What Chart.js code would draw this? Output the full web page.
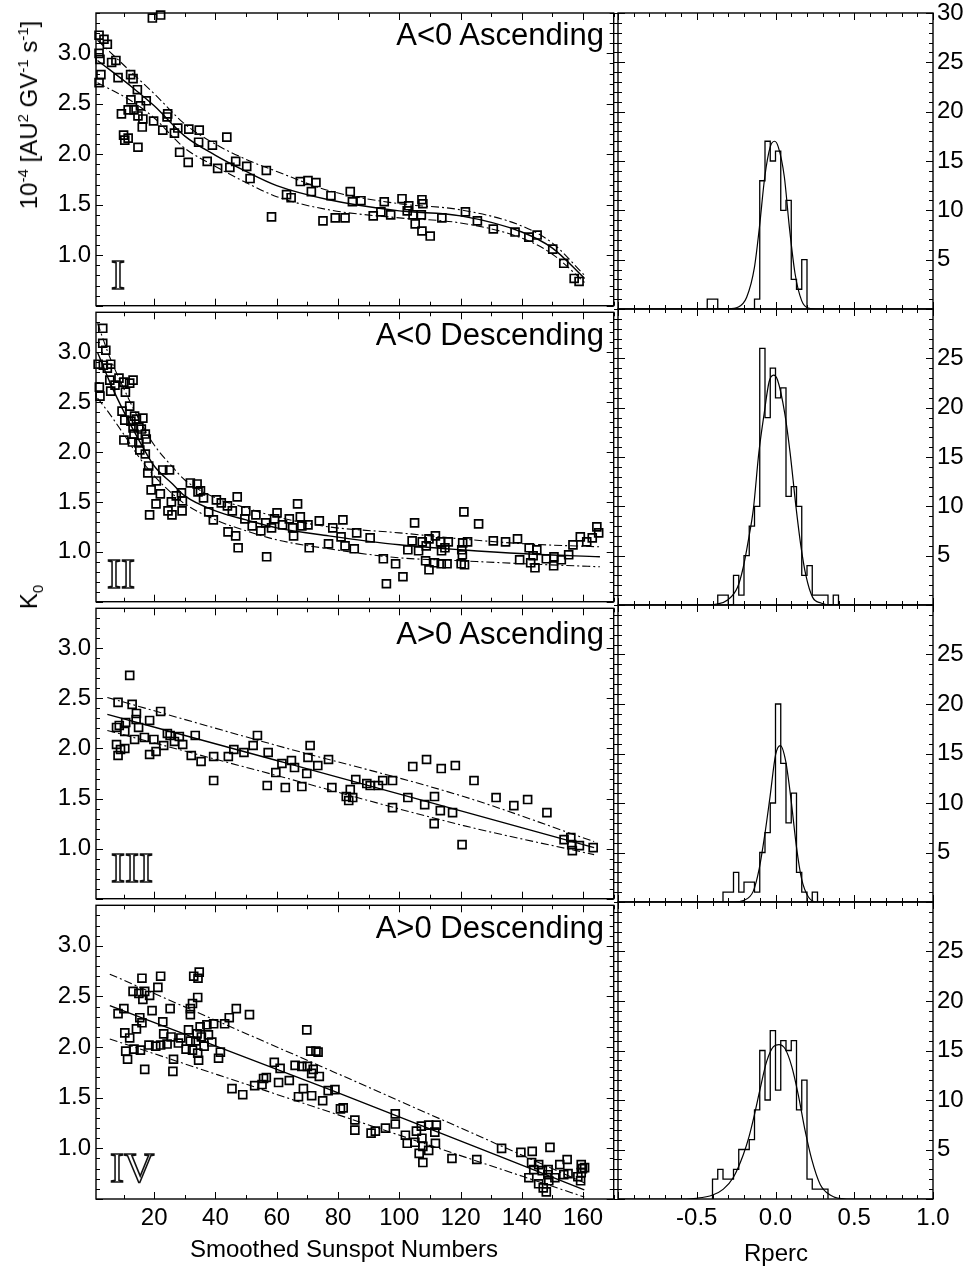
<!DOCTYPE html>
<html>
<head>
<meta charset="utf-8">
<script src="https://cdn.jsdelivr.net/npm/chart.js@4.4.1/dist/chart.umd.min.js"></script>
<style>
  body { margin: 0; background: #fff; }
  #wrap { position: relative; width: 971px; height: 1272px; background: #fff; overflow: hidden;
          font-family: "Liberation Sans", Arial, sans-serif; color: #000; }
  canvas { position: absolute; }
  .txt { position: absolute; white-space: nowrap; z-index: 2; }
  .rot { font-size: 24px; line-height: 24px; transform: translate(-50%, -50%) rotate(-90deg); }
  .rot sup { font-size: 15px; position: relative; top: -9px; vertical-align: baseline; line-height: 0; }
  .rot sub { font-size: 15px; position: relative; top: 6px; vertical-align: baseline; line-height: 0; }
  .plab { left: 0; width: 604px; text-align: right; font-size: 31px; line-height: 31px; }
  .rom { font-family: "Liberation Serif", "Times New Roman", serif; font-size: 42px; line-height: 42px;
         color: #fff; -webkit-text-stroke: 1.6px #111; }
  .xt { font-size: 24px; line-height: 24px; transform: translateX(-50%); }
</style>
</head>
<body>
<div id="wrap">
  <div class="txt rot" style="left:29px;top:115px">10<sup>-4</sup> [AU<sup>2</sup> GV<sup>-1</sup> s<sup>-1</sup>]</div>
  <div class="txt rot" style="left:29px;top:597px">K<sub>0</sub></div>

  <div class="txt plab" style="top:19px">A&lt;0 Ascending</div>
  <div class="txt plab" style="top:319px">A&lt;0 Descending</div>
  <div class="txt plab" style="top:618px">A&gt;0 Ascending</div>
  <div class="txt plab" style="top:912px">A&gt;0 Descending</div>

  <div class="txt rom" style="left:111px;top:254px">I</div>
  <div class="txt rom" style="left:107px;top:553px">II</div>
  <div class="txt rom" style="left:111px;top:847px">III</div>
  <div class="txt rom" style="left:110px;top:1147px">IV</div>

  <div class="txt xt" style="left:344px;top:1237px">Smoothed Sunspot Numbers</div>
  <div class="txt xt" style="left:776px;top:1241px">Rperc</div>
</div>
<script>
// ---- panel I : A<0 ascending ----
const panel1Points = [
  [2.0, 3.18], [3.6, 3.14], [4.7, 3.09], [2.0, 3.00], [2.3, 2.94], [7.5, 2.93], [6.1, 2.91], [2.6, 2.79],
  [2.0, 2.71], [8.2, 2.76], [12.3, 2.79], [13.1, 2.75], [14.5, 2.64], [12.4, 2.54], [17.4, 2.53], [15.5, 2.48],
  [9.3, 2.40], [11.5, 2.44], [13.4, 2.44], [14.7, 2.38], [16.3, 2.35], [16.1, 2.27], [19.8, 2.33], [24.4, 2.40],
  [24.2, 2.37], [22.8, 2.24], [26.6, 2.21], [27.7, 2.26], [31.3, 2.25], [34.7, 2.24], [34.5, 2.12], [39.0, 2.09],
  [43.7, 2.17], [10.0, 2.19], [10.4, 2.14], [11.5, 2.16], [14.7, 2.07], [28.3, 2.02], [31.1, 1.92], [37.3, 1.93],
  [40.7, 1.86], [44.7, 1.87], [46.6, 1.93], [50.2, 1.88], [51.3, 1.76], [56.6, 1.84], [58.3, 1.38], [63.2, 1.60],
  [64.7, 1.57], [67.7, 1.73], [70.2, 1.74], [72.8, 1.72], [71.3, 1.63], [75.1, 1.34], [19.4, 3.35], [22.1, 3.38],
  [79.1, 1.37], [82.3, 1.37], [77.7, 1.59], [84.0, 1.63], [84.7, 1.53], [87.5, 1.54], [91.5, 1.39], [94.0, 1.43],
  [95.1, 1.53], [97.2, 1.40], [100.9, 1.56], [103.1, 1.49], [102.6, 1.44], [104.5, 1.40], [107.2, 1.40], [107.4, 1.55],
  [107.7, 1.51], [105.2, 1.31], [107.4, 1.24], [110.1, 1.19], [113.9, 1.37], [121.6, 1.43], [125.5, 1.34], [130.7, 1.26],
  [137.8, 1.23], [142.3, 1.18], [145.0, 1.20], [150.1, 1.06], [153.7, 0.92], [157.1, 0.77], [158.7, 0.74]
];
const fit1X   = [1.5, 13, 20, 30, 40, 50, 60, 77, 100, 120, 140, 150, 160.5];
const fit1Mid = [2.93, 2.66, 2.48, 2.18, 1.99, 1.83, 1.69, 1.55, 1.44, 1.39, 1.23, 1.07, 0.77];
const fit1Up  = [3.13, 2.80, 2.60, 2.30, 2.10, 1.95, 1.83, 1.64, 1.51, 1.45, 1.29, 1.12, 0.80];
const fit1Lo  = [2.71, 2.52, 2.36, 2.06, 1.88, 1.72, 1.58, 1.45, 1.37, 1.32, 1.17, 1.01, 0.73];

// ---- panel II : A<0 descending ----
const panel2Points = [
  [3.2, 3.24], [3.2, 3.09], [4.2, 3.02], [1.7, 2.88], [3.4, 2.87], [5.8, 2.88], [4.7, 2.84], [2.1, 2.65],
  [2.3, 2.56], [5.5, 2.72], [5.8, 2.61], [7.2, 2.67], [8.5, 2.74], [10.1, 2.70], [12.0, 2.69], [13.1, 2.72],
  [10.6, 2.60], [9.5, 2.41], [12.0, 2.46], [10.4, 2.32], [12.4, 2.31], [13.6, 2.36], [14.2, 2.33], [16.3, 2.34],
  [13.1, 2.24], [15.0, 2.25], [13.4, 2.18], [15.8, 2.23], [17.1, 2.18], [10.1, 2.12], [12.9, 2.10], [15.0, 2.09],
  [17.4, 2.13], [15.3, 2.02], [17.1, 1.98], [18.2, 1.86], [17.9, 1.79], [20.7, 1.71], [22.8, 1.82], [25.0, 1.82],
  [19.0, 1.62], [22.0, 1.58], [20.6, 1.48], [18.5, 1.37], [24.5, 1.41], [25.8, 1.37], [25.6, 1.50], [27.2, 1.56],
  [28.9, 1.59], [29.2, 1.51], [29.1, 1.41], [31.8, 1.69], [34.0, 1.68], [34.3, 1.60], [35.1, 1.61], [36.1, 1.54],
  [37.8, 1.40], [39.3, 1.32], [40.3, 1.52], [41.9, 1.49], [43.9, 1.46], [45.5, 1.41], [47.1, 1.55], [44.1, 1.20],
  [46.6, 1.16], [47.4, 1.04], [49.9, 1.41], [49.6, 1.33], [53.2, 1.37], [52.0, 1.26], [54.8, 1.21], [56.4, 1.29],
  [56.7, 0.95], [58.3, 1.24], [60.1, 1.39], [59.3, 1.33], [61.9, 1.27], [64.1, 1.33], [65.2, 1.24], [65.5, 1.16],
  [66.8, 1.48], [67.7, 1.35], [68.2, 1.26], [70.2, 1.27], [70.6, 1.04], [73.9, 1.31], [76.9, 1.08], [78.3, 1.24],
  [81.6, 1.32], [81.0, 1.15], [82.3, 1.06], [85.3, 1.03], [86.1, 1.19], [90.5, 1.14], [94.8, 0.93], [98.8, 0.88],
  [95.8, 0.68], [101.2, 0.75], [105.0, 1.29], [104.2, 1.11], [102.8, 1.02], [106.3, 1.01], [107.5, 1.10], [108.8, 1.06],
  [109.7, 1.13], [111.8, 1.16], [113.5, 1.10], [116.0, 1.10], [114.9, 1.04], [108.6, 0.91], [109.7, 0.82], [111.5, 0.89],
  [113.7, 0.88], [115.6, 0.88], [113.8, 1.01], [120.4, 1.02], [120.6, 0.97], [120.2, 0.88], [121.3, 0.87], [120.7, 1.09],
  [122.3, 1.10], [121.1, 1.40], [125.9, 1.28], [130.7, 1.11], [134.7, 1.10], [138.6, 1.13], [139.3, 0.92], [142.4, 1.04],
  [142.9, 0.89], [143.7, 0.96], [144.3, 0.84], [144.9, 1.02], [148.0, 0.93], [150.5, 0.95], [150.4, 0.86], [152.9, 0.92],
  [155.3, 0.97], [156.7, 1.07], [159.1, 1.15], [161.2, 1.10], [163.0, 1.14], [164.5, 1.25], [165.1, 1.19]
];
const fit2X   = [1.5, 5.5, 10, 15, 20, 26, 30, 40, 50, 60, 77, 100, 120, 141, 165.5];
const fit2Mid = [3.00, 2.70, 2.41, 2.12, 1.86, 1.68, 1.56, 1.41, 1.32, 1.24, 1.16, 1.07, 1.02, 0.98, 0.95];
const fit2Up  = [3.29, 2.95, 2.64, 2.33, 2.07, 1.85, 1.72, 1.54, 1.44, 1.35, 1.25, 1.19, 1.13, 1.08, 1.05];
const fit2Lo  = [2.54, 2.38, 2.18, 1.95, 1.76, 1.58, 1.48, 1.32, 1.21, 1.12, 1.03, 0.94, 0.91, 0.88, 0.85];

// ---- panel III : A>0 ascending ----
const panel3Points = [
  [12.0, 2.73], [8.2, 2.46], [12.8, 2.44], [14.2, 2.35], [22.1, 2.37], [8.6, 2.23], [7.7, 2.21], [10.7, 2.26],
  [10.4, 2.17], [14.1, 2.29], [14.9, 2.21], [13.6, 2.09], [16.8, 2.11], [18.5, 2.28], [19.9, 2.09], [24.3, 2.15],
  [25.2, 2.13], [28.2, 2.12], [33.4, 2.13], [7.7, 2.04], [8.2, 1.93], [9.0, 1.99], [10.4, 2.00], [18.5, 1.94],
  [20.6, 1.97], [23.1, 2.03], [26.6, 2.07], [29.3, 2.04], [32.1, 1.93], [35.3, 1.87], [39.4, 1.92], [39.4, 1.68],
  [44.2, 1.92], [46.0, 1.99], [49.3, 1.96], [52.3, 2.03], [53.7, 2.13], [57.2, 1.96], [56.9, 1.63], [59.7, 1.76],
  [61.7, 1.85], [62.8, 1.61], [64.8, 1.88], [65.8, 1.81], [68.2, 1.62], [69.8, 1.75], [70.2, 1.91], [70.9, 2.03],
  [73.4, 1.83], [76.9, 1.89], [78.0, 1.61], [82.7, 1.52], [83.5, 1.48], [84.0, 1.59], [84.8, 1.51], [85.8, 1.69],
  [89.4, 1.65], [90.5, 1.63], [93.2, 1.63], [94.6, 1.68], [97.8, 1.68], [97.8, 1.41], [102.8, 1.51], [104.4, 1.82],
  [108.3, 1.44], [108.9, 1.89], [111.5, 1.52], [111.4, 1.25], [113.4, 1.38], [113.7, 1.80], [117.4, 1.36], [118.3, 1.83],
  [120.5, 1.04], [124.4, 1.68], [131.6, 1.51], [137.4, 1.43], [141.9, 1.49], [148.2, 1.36], [153.8, 1.09], [156.0, 1.11],
  [156.3, 1.04], [156.5, 0.98], [158.8, 1.03], [163.3, 1.01]
];
const fit3X   = [4.7, 60, 121, 163.6];
const fit3Mid = [2.34, 1.88, 1.37, 1.01];
const fit3Up  = [2.51, 2.03, 1.52, 1.07];
const fit3Lo  = [2.18, 1.73, 1.23, 0.94];

// ---- panel IV : A>0 descending ----
const panel4Points = [
  [8.2, 2.33], [10.1, 2.38], [10.4, 2.14], [10.7, 1.96], [11.3, 1.88], [12.0, 2.09], [13.1, 2.55], [13.4, 1.98],
  [14.2, 2.18], [15.0, 2.53], [15.3, 2.29], [15.5, 1.97], [16.0, 2.24], [16.0, 2.68], [16.3, 2.47], [16.9, 2.55],
  [16.9, 1.78], [18.3, 2.02], [18.5, 2.51], [19.3, 2.36], [20.5, 2.01], [21.2, 2.59], [22.1, 2.70], [22.1, 2.02],
  [22.8, 2.25], [23.1, 2.13], [24.2, 2.03], [25.2, 2.38], [25.5, 2.10], [26.3, 1.88], [26.1, 1.76], [27.9, 2.04],
  [28.7, 2.09], [30.4, 1.98], [31.2, 2.17], [31.8, 2.06], [31.8, 2.32], [31.8, 2.38], [32.5, 1.97], [32.5, 2.43],
  [32.9, 2.70], [33.6, 2.06], [34.0, 2.13], [34.2, 2.49], [34.3, 2.68], [34.7, 2.74], [34.2, 1.94], [34.5, 1.87],
  [35.0, 2.20], [35.4, 2.10], [36.3, 2.01], [37.2, 2.22], [37.7, 2.12], [38.8, 2.05], [39.4, 2.23], [41.0, 1.89],
  [41.6, 1.95], [43.0, 2.23], [44.5, 2.29], [45.4, 1.59], [46.8, 2.38], [48.9, 1.53], [51.1, 2.32], [52.8, 1.62],
  [55.2, 1.63], [55.7, 1.69], [56.6, 1.70], [59.2, 1.85], [60.6, 1.65], [61.1, 1.79], [64.1, 1.67], [66.0, 1.82],
  [67.1, 1.51], [68.2, 1.81], [68.7, 1.59], [69.8, 2.17], [70.0, 1.81], [71.1, 1.96], [71.4, 1.52], [71.4, 1.74],
  [71.9, 1.78], [72.8, 1.96], [73.5, 1.95], [73.9, 1.71], [75.0, 1.47], [76.8, 1.57], [79.0, 1.58], [80.8, 1.39],
  [81.7, 1.40], [85.5, 1.28], [85.5, 1.18], [90.8, 1.15], [92.2, 1.17], [95.5, 1.20], [98.7, 1.34], [98.7, 1.24],
  [102.0, 1.13], [102.6, 1.05], [105.1, 1.06], [105.6, 1.17], [106.5, 0.95], [107.2, 1.22], [107.4, 1.10], [107.7, 1.02],
  [107.7, 0.86], [109.6, 1.23], [109.6, 0.98], [111.6, 1.16], [111.8, 1.05], [112.1, 1.23], [117.2, 0.90], [125.3, 0.89],
  [133.4, 1.00], [139.7, 0.96], [142.3, 0.71], [143.2, 0.86], [143.4, 0.97], [143.9, 0.79], [145.5, 0.84], [145.5, 0.65],
  [146.7, 0.78], [147.0, 0.61], [148.0, 0.57], [148.6, 0.79], [148.8, 0.68], [149.2, 1.01], [148.5, 0.74], [150.8, 0.71],
  [152.4, 0.84], [153.7, 0.74], [154.8, 0.89], [155.1, 0.75], [158.3, 0.72], [159.4, 0.84], [159.8, 0.80], [159.4, 0.76],
  [159.2, 0.68], [160.5, 0.81]
];
const fit4X   = [5.5, 78.2, 160.4];
const fit4Mid = [2.41, 1.57, 0.59];
const fit4Up  = [2.72, 1.76, 0.66];
const fit4Lo  = [2.08, 1.35, 0.52];

// ---- Rperc histograms (bin width 1/30) and their gaussian fits ----
const binWidth = 1 / 30;
const hist1Start = -0.43333;
const hist1Counts = [1, 1, 0, 0, 0, 0, 0, 0, 0, 1, 13, 17, 15, 16, 10, 11, 3, 2, 5];
const hist2Start = -0.36667;
const hist2Counts = [1, 1, 0, 3, 1, 5, 8, 10, 26, 19, 24, 21, 22, 11, 12, 10, 3, 4, 1, 1, 1, 0, 1];
const hist3Start = -0.33333;
const hist3Counts = [1, 1, 3, 1, 2, 2, 1, 5, 7, 10, 20, 14, 8, 11, 3, 1, 0, 1];
const hist4Start = -0.4;
const hist4Counts = [2, 3, 2, 2, 3, 5, 5, 6, 9, 15, 10, 17, 11, 16, 15, 16, 9, 12, 2, 1, 1, 1];

const gauss1 = [[-1, 0], [-0.30, 0.02], [-0.236, 0.2], [-0.183, 1.2], [-0.134, 4.2], [-0.102, 8.3], [-0.068, 13.4],
  [-0.034, 16.4], [-0.006, 17.0], [0.018, 16.4], [0.056, 13.4], [0.088, 8.3], [0.124, 3.6], [0.166, 0.85],
  [0.208, 0.1], [0.28, 0], [1, 0]];
const gauss2 = [[-1, 0], [-0.44, 0], [-0.372, 0.1], [-0.304, 0.5], [-0.241, 1.8], [-0.205, 3.8], [-0.173, 6.5],
  [-0.140, 9.8], [-0.106, 15.4], [-0.072, 19.4], [-0.041, 22.6], [-0.012, 23.3], [0.013, 22.8], [0.059, 19.4],
  [0.093, 15.4], [0.129, 10.1], [0.161, 6.0], [0.193, 3.0], [0.235, 0.8], [0.288, 0.2], [0.36, 0], [1, 0]];
const gauss3 = [[-1, 0], [-0.26, 0], [-0.204, 0.15], [-0.141, 1.1], [-0.103, 3.4], [-0.067, 6.9], [-0.035, 10.6],
  [0.001, 14.9], [0.031, 15.8], [0.065, 14.2], [0.099, 10.3], [0.132, 5.7], [0.166, 2.3], [0.209, 0.5],
  [0.262, 0], [1, 0]];
const gauss4 = [[-1, 0], [-0.6, 0], [-0.5, 0.07], [-0.399, 0.4], [-0.331, 1.0], [-0.267, 2.2], [-0.204, 4.5],
  [-0.168, 6.3], [-0.134, 8.5], [-0.098, 11.1], [-0.056, 13.9], [-0.013, 15.4], [0.022, 15.6], [0.060, 15.2],
  [0.103, 13.4], [0.145, 10.5], [0.188, 6.9], [0.230, 4.0], [0.283, 1.5], [0.347, 0.4], [0.452, 0], [1, 0]];

// tick labels
const ssnTicks = [20, 40, 60, 80, 100, 120, 140, 160];
const k0Ticks = [1.0, 1.5, 2.0, 2.5, 3.0];
const rpercTicks = [-0.5, 0, 0.5, 1.0];
const countTicksTop = [5, 10, 15, 20, 25, 30];
const countTicks = [5, 10, 15, 20, 25];

const rows = [[13, 309], [309, 605], [605, 902], [902, 1199]];
const font = { family: '"Liberation Sans", Arial, sans-serif', size: 24 };
const dashDot = [8, 3, 2, 3];

// box + inward ticks, like the original plotting program
function marks(min, max, step, every) {
  const out = [];
  for (let k = Math.ceil(min / step - 1e-9); k * step <= max + 1e-9; k++) out.push([k * step, k % every === 0]);
  return out;
}
Chart.register({
  id: 'frame',
  afterDatasetsDraw(chart, args, o) {
    const { ctx, chartArea: a } = chart;
    const sx = chart.scales.x, sy = chart.scales.y;
    ctx.save();
    ctx.strokeStyle = '#000';
    ctx.lineWidth = 1.4;
    ctx.strokeRect(a.left, a.top, a.right - a.left, a.bottom - a.top);
    ctx.lineWidth = 1;
    ctx.beginPath();
    marks(sx.min, sx.max, o.xStep, o.xEvery).forEach(([v, major]) => {
      const p = Math.round(sx.getPixelForValue(v)) + 0.5, len = major ? 7 : 4;
      ctx.moveTo(p, a.bottom); ctx.lineTo(p, a.bottom - len);
      ctx.moveTo(p, a.top); ctx.lineTo(p, a.top + len);
    });
    marks(sy.min, sy.max, o.yStep, o.yEvery).forEach(([v, major]) => {
      const p = Math.round(sy.getPixelForValue(v)) + 0.5, len = major ? 7 : 4;
      ctx.moveTo(a.left - (o.cross ? len : 0), p); ctx.lineTo(a.left + len, p);
      ctx.moveTo(a.right, p); ctx.lineTo(a.right - len, p);
    });
    ctx.stroke();
    ctx.restore();
  }
});

function axis(min, max, ticks, show, position, size, pad, fmt) {
  return {
    type: 'linear', position, min, max,
    grid: { display: false, drawTicks: false },
    border: { display: false },
    ticks: { display: show, color: '#000', font, padding: pad, autoSkip: false, maxRotation: 0, minRotation: 0, callback: fmt },
    afterBuildTicks: s => { s.ticks = ticks.map(value => ({ value })); },
    afterFit: s => {
      if (s.isHorizontal()) s.height = size; else s.width = size;
      s.paddingLeft = s.paddingRight = s.paddingTop = s.paddingBottom = 0;
    }
  };
}

function makeCanvas(left, top, w, h) {
  const c = document.createElement('canvas');
  c.width = w; c.height = h;
  c.style.left = left + 'px';
  c.style.top = top + 'px';
  document.getElementById('wrap').appendChild(c);
  return c;
}

function curve(xs, ys, dash, width) {
  return {
    data: xs.map((x, i) => ({ x, y: ys[i] })),
    showLine: true, borderColor: '#000', borderWidth: width, borderDash: dash,
    pointRadius: 0, cubicInterpolationMode: 'monotone'
  };
}

function sunspotPanel(row, points, fx, mid, up, lo) {
  const [top, bottom] = rows[row];
  const last = row === 3;
  const cTop = row === 0 ? 0 : top - 4;
  const cBottom = last ? bottom + 40 : bottom + 4;
  new Chart(makeCanvas(0, cTop, 621, cBottom - cTop), {
    type: 'scatter',
    data: {
      datasets: [
        {
          data: points.map(([x, y]) => ({ x, y })),
          pointStyle: 'rect', pointRadius: 5.6, pointBorderWidth: 1.7,
          pointBorderColor: '#000', pointBackgroundColor: 'rgba(0,0,0,0)', clip: false
        },
        curve(fx, mid, [], 1.4),
        curve(fx, up, dashDot, 1.1),
        curve(fx, lo, dashDot, 1.1)
      ]
    },
    options: {
      responsive: false, animation: false, events: [],
      layout: { padding: { left: 0, right: 4, top: top - cTop, bottom: last ? 0 : 4 } },
      plugins: {
        legend: { display: false }, tooltip: { enabled: false },
        frame: { xStep: 10, xEvery: 2, yStep: 0.1, yEvery: 5 }
      },
      scales: {
        x: axis(1, 170, ssnTicks, last, 'bottom', last ? 40 : 0, 5, v => String(v)),
        y: axis(0.5, 3.4, k0Ticks, true, 'left', 96, 5, v => v.toFixed(1))
      }
    }
  });
}

function histPanel(row, start, counts, gauss, yTicks) {
  const [top, bottom] = rows[row];
  const last = row === 3;
  const cTop = row === 0 ? 0 : top - 4;
  const cBottom = last ? bottom + 40 : bottom + 4;
  const steps = [{ x: start, y: 0 }];
  counts.forEach((c, i) => steps.push({ x: start + i * binWidth, y: c }));
  steps.push({ x: start + counts.length * binWidth, y: 0 });
  new Chart(makeCanvas(614, cTop, 357, cBottom - cTop), {
    type: 'scatter',
    data: {
      datasets: [
        { data: steps, showLine: true, stepped: 'before', borderColor: '#000', borderWidth: 1.3, pointRadius: 0 },
        curve(gauss.map(p => p[0]), gauss.map(p => p[1]), [], 1.2)
      ]
    },
    options: {
      responsive: false, animation: false, events: [],
      layout: { padding: { left: 4, right: 0, top: top - cTop, bottom: last ? 0 : 4 } },
      plugins: {
        legend: { display: false }, tooltip: { enabled: false },
        frame: { xStep: 0.1, xEvery: 5, yStep: 1, yEvery: 5, cross: true }
      },
      scales: {
        x: axis(-1, 1, rpercTicks, last, 'bottom', last ? 40 : 0, 5, v => v.toFixed(1)),
        y: axis(0, 30, yTicks, true, 'right', 38, 4, v => String(v))
      }
    }
  });
}

sunspotPanel(0, panel1Points, fit1X, fit1Mid, fit1Up, fit1Lo);
sunspotPanel(1, panel2Points, fit2X, fit2Mid, fit2Up, fit2Lo);
sunspotPanel(2, panel3Points, fit3X, fit3Mid, fit3Up, fit3Lo);
sunspotPanel(3, panel4Points, fit4X, fit4Mid, fit4Up, fit4Lo);

histPanel(0, hist1Start, hist1Counts, gauss1, countTicksTop);
histPanel(1, hist2Start, hist2Counts, gauss2, countTicks);
histPanel(2, hist3Start, hist3Counts, gauss3, countTicks);
histPanel(3, hist4Start, hist4Counts, gauss4, countTicks);
</script>
</body>
</html>
